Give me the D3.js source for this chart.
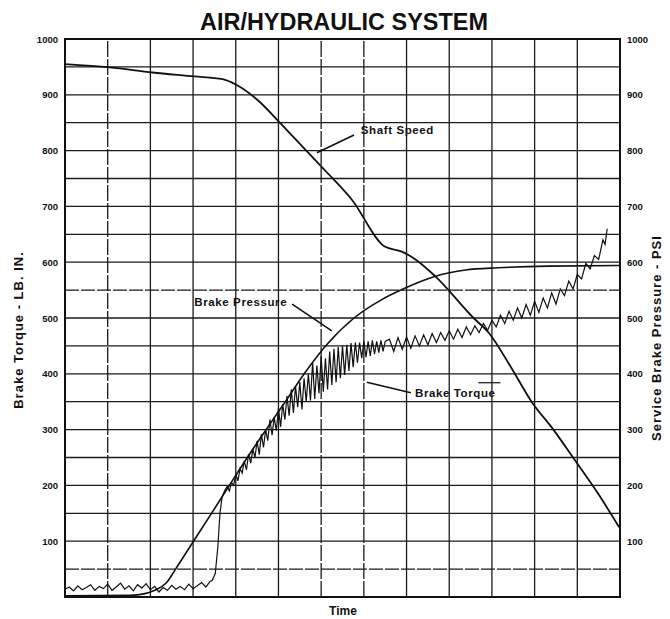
<!DOCTYPE html>
<html lang="en">
<head>
<meta charset="utf-8">
<title>Air/Hydraulic System</title>
<script src="https://cdn.jsdelivr.net/npm/d3@7"></script>
<style>
  body { margin: 0; background: #fff; }
  svg text { font-family: "Liberation Sans", Arial, sans-serif; font-weight: bold; fill: #111; }
</style>
</head>
<body>
<script>
// values; time has no units, one grid column = 1
var tickLabels = [100, 200, 300, 400, 500, 600, 700, 800, 900, 1000];
var dashedRows = [50, 550];     // grid rows that print broken in the scan
var dashedCols = [1, 6, 7];

// shaft speed (left scale)
var speedT = [0, 1.05, 2.05, 3.03, 3.69, 4.01, 4.55, 5.02, 5.64, 6.11, 6.72, 7.49, 7.89, 8.21, 8.67, 9.57, 9.92, 10.46, 10.92, 11.44, 11.9, 12.49, 12.98];
var speedV = [955, 949, 940, 933, 928, 918, 888, 851, 801, 763, 712, 628, 619, 605, 575, 500, 474, 410, 351, 300, 250, 185, 125];

// service brake pressure, PSI (right scale)
var pressT = [0, 1.52, 1.87, 2.1, 2.37, 2.59, 3.01, 3.45, 3.85, 4.27, 4.71, 5.16, 5.62, 6.14, 6.77, 7.42, 7.89, 8.68, 9.38, 10.15, 11.32, 12.98];
var pressV = [2, 3, 6, 12, 25, 50, 100, 152, 200, 250, 300, 350, 402, 453, 500, 533, 551, 575, 586, 590, 593, 594];

// brake torque, LB. IN. (left scale) - noisy trace
var torqueT = [0, 0.1, 0.2, 0.3, 0.4, 0.5, 0.6, 0.7, 0.8, 0.9, 1.0, 1.1, 1.2, 1.3, 1.4, 1.5, 1.6, 1.7, 1.8, 1.9,
  2.0, 2.1, 2.2, 2.3, 2.4, 2.5, 2.6, 2.7, 2.8, 2.9, 3.0, 3.1, 3.2, 3.3, 3.4,
  3.45, 3.52, 3.58, 3.63, 3.68, 3.75, 3.8, 3.85, 3.9, 3.95,
  4.0, 4.05, 4.1, 4.15, 4.2, 4.25, 4.3, 4.35, 4.4, 4.45, 4.5, 4.55, 4.6, 4.65, 4.7, 4.75, 4.8, 4.85, 4.9, 4.95,
  5.0, 5.05, 5.1, 5.15, 5.2, 5.25, 5.3, 5.35, 5.4, 5.45, 5.5, 5.55, 5.6, 5.65, 5.7, 5.75, 5.8, 5.85, 5.9, 5.95,
  6.0, 6.05, 6.1, 6.15, 6.2, 6.25, 6.3, 6.35, 6.4, 6.45, 6.5, 6.55, 6.6, 6.65, 6.7, 6.75, 6.8, 6.85, 6.9, 6.95,
  7.0, 7.05, 7.1, 7.15, 7.2, 7.25, 7.3, 7.35, 7.4, 7.45, 7.5,
  7.6, 7.7, 7.8, 7.9, 8.0, 8.1, 8.2, 8.3, 8.4, 8.5, 8.6, 8.7, 8.8, 8.9, 9.0, 9.1, 9.2, 9.3, 9.4, 9.5, 9.6, 9.7, 9.8, 9.9,
  10.0, 10.1, 10.2, 10.3, 10.4, 10.5, 10.6, 10.7, 10.8, 10.9, 11.0, 11.1, 11.2, 11.3, 11.4, 11.5, 11.6, 11.7, 11.8, 11.9,
  12.0, 12.1, 12.2, 12.3, 12.4, 12.5, 12.6, 12.65, 12.7];
var torqueV = [14, 18, 11, 20, 13, 17, 22, 12, 19, 15, 23, 12, 18, 25, 14, 20, 11, 22, 16, 24,
  13, 19, 9, 17, 12, 21, 14, 19, 13, 23, 15, 20, 26, 18, 28,
  30, 42, 90, 150, 180, 192, 198, 190, 205, 200,
  220, 208, 230, 222, 244, 228, 256, 240, 265, 250, 280, 255, 292, 268, 300, 280, 318, 290, 322, 298,
  338, 305, 345, 318, 360, 325, 372, 330, 378, 340, 385, 336, 392, 350, 400, 352, 420, 355, 415, 365,
  432, 368, 428, 372, 440, 380, 445, 385, 448, 392, 450, 398, 452, 405, 455, 412, 456, 420, 456, 428,
  458, 430, 458, 432, 460, 435, 458, 438, 460, 440, 458,
  462, 440, 465, 444, 466, 446, 468, 450, 470, 452, 472, 456, 474, 460, 477, 462, 480, 465, 484, 470, 486, 474, 490, 478,
  496, 484, 505, 490, 512, 496, 518, 500, 524, 505, 530, 510, 536, 518, 545, 525, 552, 540, 566, 552,
  578, 570, 598, 588, 612, 605, 640, 632, 660];

var w = 670, h = 619;
var svg = d3.select("body").append("svg").attr("width", w).attr("height", h);

var x = d3.scaleLinear().domain([0, 13]).range([65, 620]);
var y = d3.scaleLinear().domain([0, 1000]).range([597, 39]);

// grid
var grid = svg.append("g").attr("stroke", "#1a1a1a").attr("stroke-width", 1.3);
grid.selectAll("line.h").data(d3.range(0, 1001, 50)).enter().append("line")
  .attr("x1", x(0)).attr("x2", x(13))
  .attr("y1", function(d){ return y(d); }).attr("y2", function(d){ return y(d); })
  .attr("stroke-dasharray", function(d){ return dashedRows.indexOf(d) >= 0 ? "14,2" : null; });
grid.selectAll("line.v").data(d3.range(0, 14)).enter().append("line")
  .attr("x1", function(d){ return x(d); }).attr("x2", function(d){ return x(d); })
  .attr("y1", y(0)).attr("y2", y(1000))
  .attr("stroke-dasharray", function(d){ return dashedCols.indexOf(d) >= 0 ? "16,2" : null; });

// frame
svg.append("rect").attr("x", x(0)).attr("y", y(1000))
  .attr("width", x(13) - x(0)).attr("height", y(0) - y(1000))
  .attr("fill", "none").attr("stroke", "#111").attr("stroke-width", 2);

// axes
var left = svg.append("g").attr("transform", "translate(" + x(0) + ",0)")
  .call(d3.axisLeft(y).tickValues(tickLabels).tickFormat(d3.format("d")).tickSize(0).tickPadding(7));
var right = svg.append("g").attr("transform", "translate(" + x(13) + ",0)")
  .call(d3.axisRight(y).tickValues(tickLabels).tickFormat(d3.format("d")).tickSize(0).tickPadding(7));
[left, right].forEach(function(g){
  g.select(".domain").remove();
  g.selectAll("text").attr("font-size", 9.5).attr("font-family", "Liberation Sans, Arial, sans-serif").attr("font-weight", "bold");
});

// series
function line(ts, vs, curve){
  return d3.line().x(function(d){ return x(ts[d]); }).y(function(d){ return y(vs[d]); }).curve(curve)(d3.range(ts.length));
}
svg.append("path").attr("d", line(speedT, speedV, d3.curveMonotoneX))
  .attr("fill", "none").attr("stroke", "#111").attr("stroke-width", 1.8);
svg.append("path").attr("d", line(pressT, pressV, d3.curveMonotoneX))
  .attr("fill", "none").attr("stroke", "#111").attr("stroke-width", 1.6);
svg.append("path").attr("d", line(torqueT, torqueV, d3.curveLinear))
  .attr("fill", "none").attr("stroke", "#111").attr("stroke-width", 1.2);

// annotations
function note(label, tx, ty, lx1, ly1, lx2, ly2){
  svg.append("text").attr("x", x(tx)).attr("y", y(ty)).attr("font-size", 11.5)
    .attr("letter-spacing", 0.6).text(label);
  svg.append("line").attr("x1", x(lx1)).attr("y1", y(ly1)).attr("x2", x(lx2)).attr("y2", y(ly2))
    .attr("stroke", "#111").attr("stroke-width", 1.6);
}
note("Shaft Speed", 6.93, 829, 6.77, 828, 5.9, 796);
note("Brake Pressure", 3.03, 522, 5.32, 525, 6.25, 477);
note("Brake Torque", 8.2, 359, 7.07, 385, 8.1, 366);
svg.append("line").attr("x1", x(9.68)).attr("x2", x(10.2)).attr("y1", y(384)).attr("y2", y(384))
  .attr("stroke", "#111").attr("stroke-width", 1.2);

// titles
svg.append("text").attr("x", 344).attr("y", 30).attr("text-anchor", "middle")
  .attr("font-size", 23).attr("textLength", 288).attr("lengthAdjust", "spacingAndGlyphs")
  .text("AIR/HYDRAULIC SYSTEM");
svg.append("text").attr("x", 343).attr("y", 615).attr("text-anchor", "middle")
  .attr("font-size", 12).text("Time");
svg.append("text").attr("transform", "translate(23,330) rotate(-90)").attr("text-anchor", "middle")
  .attr("font-size", 13).attr("letter-spacing", 1).text("Brake Torque - LB. IN.");
svg.append("text").attr("transform", "translate(661,338) rotate(-90)").attr("text-anchor", "middle")
  .attr("font-size", 13).attr("letter-spacing", 1).text("Service Brake Pressure - PSI");
</script>
</body>
</html>
